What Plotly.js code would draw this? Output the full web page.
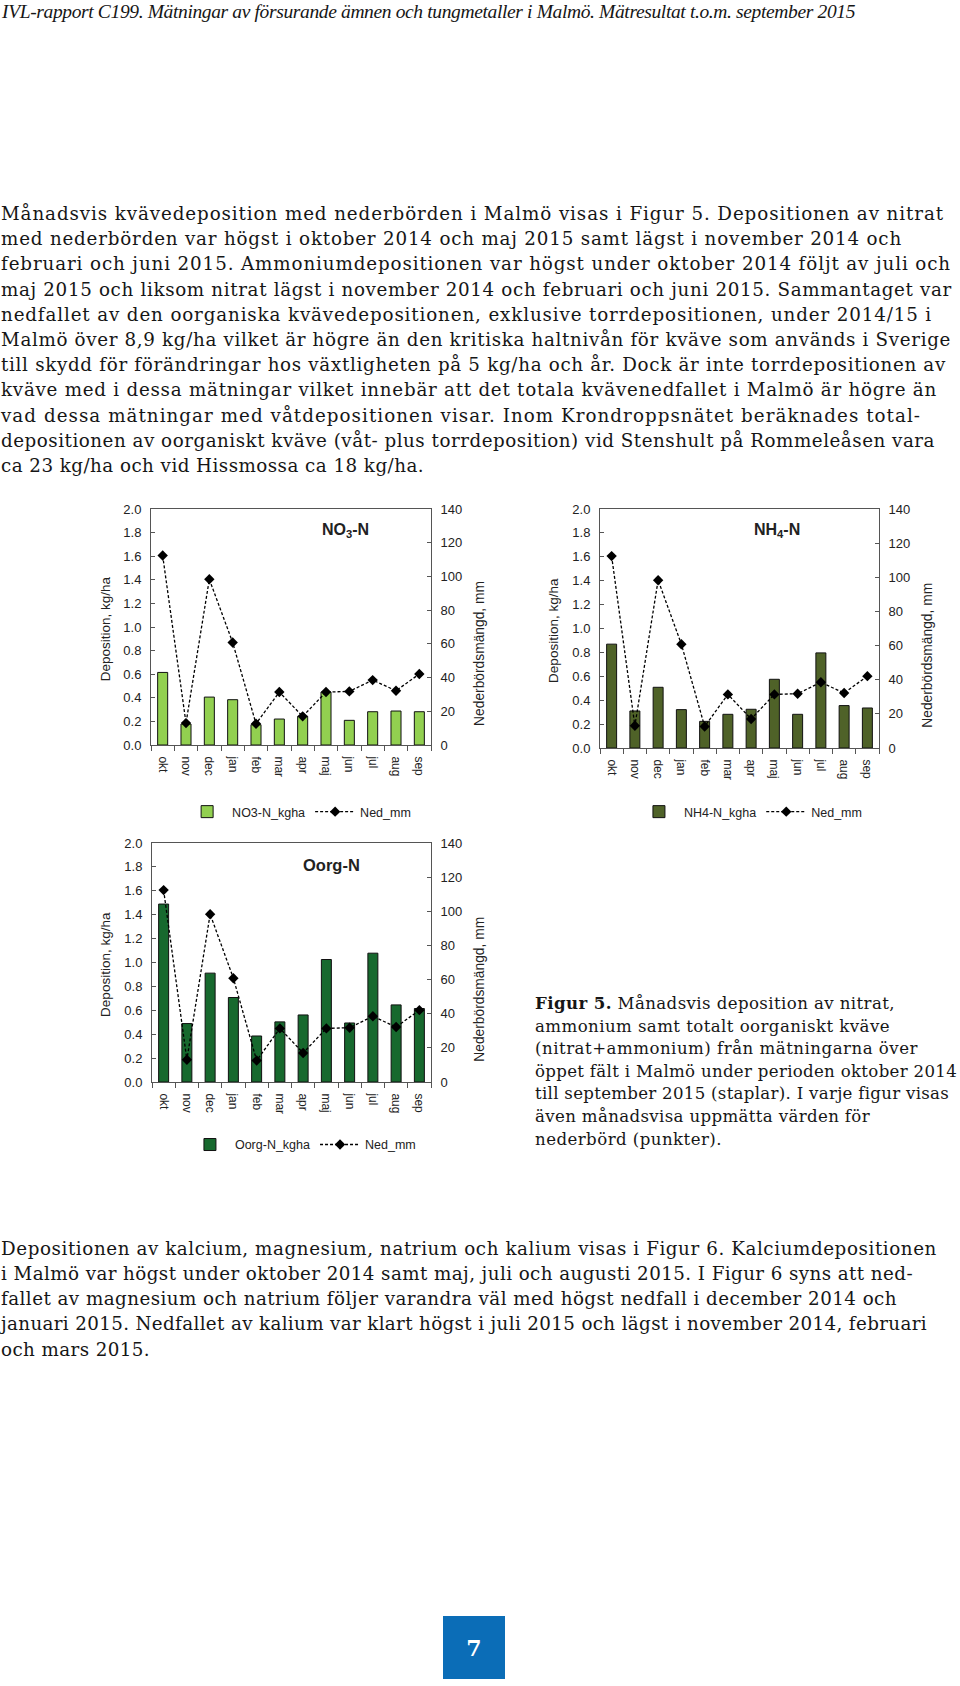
<!DOCTYPE html>
<html><head><meta charset="utf-8">
<script src="https://cdn.plot.ly/plotly-3.0.1.min.js"></script>
<style>
html,body{margin:0;padding:0;background:#fff}
body{width:960px;height:1686px;position:relative;overflow:hidden}
.ln{position:absolute;white-space:nowrap;color:#161616;line-height:20px}
.p{font-family:"DejaVu Serif",serif;font-size:18.3px}
.c{font-family:"DejaVu Serif",serif;font-size:16.6px}
.h{font-family:"Liberation Serif",serif;font-style:italic;font-size:19.5px}
.chart{position:absolute}
#pg{position:absolute;left:443px;top:1616px;width:62px;height:63px;background:#0b6db7;color:#fff;
font-family:"DejaVu Serif",serif;font-size:22px;font-weight:bold;display:flex;align-items:center;justify-content:center}
</style></head>
<body>
<div id="text"></div>
<div id="c1" class="chart" style="left:60px;top:470px;width:460px;height:360px"></div>
<div id="c2" class="chart" style="left:510px;top:470px;width:450px;height:360px"></div>
<div id="c3" class="chart" style="left:60px;top:830px;width:460px;height:335px"></div>
<div id="pg">7</div>
<script>
// ---- data ----
const months = ['okt','nov','dec','jan','feb','mar','apr','maj','jun','jul','aug','sep'];
const no3Kgha = [0.615,0.178,0.406,0.384,0.172,0.220,0.243,0.449,0.209,0.282,0.288,0.282];
const nh4Kgha = [0.869,0.310,0.508,0.321,0.223,0.282,0.324,0.575,0.282,0.796,0.355,0.335];
const oorgKgha = [1.489,0.489,0.911,0.707,0.385,0.503,0.561,1.025,0.494,1.078,0.645,0.615];
const nedMm = [112.4,13.0,98.3,60.8,12.6,31.4,17.0,31.4,31.8,38.5,32.2,42.1];
const leftTicks = [0,0.2,0.4,0.6,0.8,1.0,1.2,1.4,1.6,1.8,2.0];
const rightTicks = [0,20,40,60,80,100,120,140];

const header = 'IVL-rapport C199. Mätningar av försurande ämnen och tungmetaller i Malmö. Mätresultat t.o.m. september 2015';
const para1 = [
 'Månadsvis kvävedeposition med nederbörden i Malmö visas i Figur 5. Depositionen av nitrat',
 'med nederbörden var högst i oktober 2014 och maj 2015 samt lägst i november 2014 och',
 'februari och juni 2015. Ammoniumdepositionen var högst under oktober 2014 följt av juli och',
 'maj 2015 och liksom nitrat lägst i november 2014 och februari och juni 2015. Sammantaget var',
 'nedfallet av den oorganiska kvävedepositionen, exklusive torrdepositionen, under 2014/15 i',
 'Malmö över 8,9 kg/ha vilket är högre än den kritiska haltnivån för kväve som används i Sverige',
 'till skydd för förändringar hos växtligheten på 5 kg/ha och år. Dock är inte torrdepositionen av',
 'kväve med i dessa mätningar vilket innebär att det totala kvävenedfallet i Malmö är högre än',
 'vad dessa mätningar med våtdepositionen visar. Inom Krondroppsnätet beräknades total-',
 'depositionen av oorganiskt kväve (våt- plus torrdeposition) vid Stenshult på Rommeleåsen vara',
 'ca 23 kg/ha och vid Hissmossa ca 18 kg/ha.'
];
const caption = [
 'Figur 5.| Månadsvis deposition av nitrat,',
 'ammonium samt totalt oorganiskt kväve',
 '(nitrat+ammonium) från mätningarna över',
 'öppet fält i Malmö under perioden oktober 2014',
 'till september 2015 (staplar).  I varje figur visas',
 'även månadsvisa uppmätta värden för',
 'nederbörd (punkter).'
];
const para2 = [
 'Depositionen av kalcium, magnesium, natrium och kalium visas i Figur 6. Kalciumdepositionen',
 'i Malmö var högst under oktober 2014 samt maj, juli och augusti 2015. I Figur 6 syns att ned-',
 'fallet av magnesium och natrium följer varandra väl med högst nedfall i december 2014 och',
 'januari 2015. Nedfallet av kalium var klart högst i juli 2015 och lägst i november 2014, februari',
 'och mars 2015.'
];

// ---- text layout ----
const host = document.getElementById('text');
function addLine(txt, cls, left, cy, right){
  const d = document.createElement('div');
  d.className = 'ln ' + cls;
  if (txt.indexOf('|') >= 0){
    const parts = txt.split('|');
    const b = document.createElement('b'); b.textContent = parts[0];
    d.appendChild(b); d.appendChild(document.createTextNode(parts[1]));
  } else d.textContent = txt;
  d.style.left = left + 'px';
  d.style.top = (cy - 11) + 'px';
  d.dataset.w = right - left;
  host.appendChild(d);
}
addLine(header, 'h', 2, 13, 855);
const p1Right = [944,902,951,952,932,951,946,937,921,935,424];
para1.forEach((t,i)=>addLine(t,'p',1,215+25.2*i,p1Right[i]));
const capRight = [895,890,918,957,949,870,722];
const capY = [1004,1028,1050,1073,1095,1118,1141];
caption.forEach((t,i)=>addLine(t,'c',535,capY[i],capRight[i]));
const p2Right = [937,913,897,927,150];
const p2Y = [1250,1275,1300,1325,1351];
para2.forEach((t,i)=>addLine(t,'p',1,p2Y[i],p2Right[i]));

function fit(){
  document.querySelectorAll('.ln').forEach(el=>{
    el.style.letterSpacing='0px';
    const w = el.getBoundingClientRect().width;
    const n = el.textContent.length;
    const ls = (parseFloat(el.dataset.w) - w)/n;
    el.style.letterSpacing = ls.toFixed(3)+'px';
  });
}
fit();
if (document.fonts && document.fonts.ready) document.fonts.ready.then(fit);

// ---- charts ----
const FONT = 'Liberation Sans, Arial, sans-serif';
function chart(id, vals, name, color, title, titleSize, m, tpos, legPos){
  const traces = [
    {type:'bar', x:months, y:vals, name:name, marker:{color:color, line:{color:'#111', width:1}},
     width:0.43, hoverinfo:'y'},
    {type:'scatter', mode:'lines+markers', x:months, y:nedMm, name:'Ned_mm', yaxis:'y2',
     line:{color:'#000', width:1.3, dash:'3px,2px'}, marker:{symbol:'diamond', size:8, color:'#000'}}
  ];
  const ax = {linecolor:'#555', linewidth:1, showgrid:false, zeroline:false, automargin:false,
     tickfont:{family:FONT, size:13, color:'#222'}};
  const layout = {
    width:m.w, height:m.h, margin:{l:m.l, r:m.r, t:m.t, b:m.b},
    paper_bgcolor:'rgba(0,0,0,0)', plot_bgcolor:'#fff', showlegend:true,
    font:{family:FONT, color:'#222'},
    xaxis:Object.assign({}, ax, {type:'category', range:[-0.5,11.5], showline:true, mirror:true,
      tickangle:90, ticks:'outside', tickson:'boundaries', ticklen:5, tickcolor:'#555',
      ticklabelstandoff:8, tickfont:{family:FONT, size:12, color:'#222'}}),
    yaxis:Object.assign({}, ax, {range:[0,2], tickvals:leftTicks, tickformat:'.1f', showline:true,
      ticks:'inside', ticklen:4, tickcolor:'#555', ticklabelstandoff:6}),
    yaxis2:Object.assign({}, ax, {range:[0,140], tickvals:rightTicks, overlaying:'y', side:'right',
      showline:true, ticks:'inside', ticklen:4, tickcolor:'#555', ticklabelstandoff:6}),
    legend:{orientation:'h', x:legPos[0], y:legPos[1], xref:'paper', yref:'container',
      xanchor:'center', yanchor:'middle',
      font:{family:FONT, size:12.5, color:'#222'}, itemwidth:40, bgcolor:'rgba(0,0,0,0)'},
    annotations:[
      {text:title, xref:'paper', yref:'paper', x:tpos[0], y:tpos[1], xanchor:'center', yanchor:'middle',
       showarrow:false, font:{family:FONT, size:titleSize, color:'#222'}},
      {text:'Deposition, kg/ha', xref:'paper', yref:'paper', x:0, y:0.49, xshift:-46, textangle:-90,
       xanchor:'center', yanchor:'middle', showarrow:false, font:{family:FONT, size:13.5, color:'#222'}},
      {text:'Nederbördsmängd, mm', xref:'paper', yref:'paper', x:1, y:0.386, xshift:49, textangle:-90,
       xanchor:'center', yanchor:'middle', showarrow:false, font:{family:FONT, size:13.8, color:'#222'}}
    ]
  };
  Plotly.newPlot(id, traces, layout, {staticPlot:true, displayModeBar:false});
}
chart('c1', no3Kgha, 'NO3-N_kgha', '#92d050', '<b>NO<sub>3</sub>-N</b>', 16,
  {w:460,h:360,l:91,r:89,t:39,b:85}, [0.693,0.911], [0.529,0.05]);
chart('c2', nh4Kgha, 'NH4-N_kgha', '#4f6228', '<b>NH<sub>4</sub>-N</b>', 16,
  {w:450,h:360,l:90,r:81,t:39,b:82}, [0.634,0.912], [0.541,0.05]);
chart('c3', oorgKgha, 'Oorg-N_kgha', '#17692e', '<b>Oorg-N</b>', 16.5,
  {w:460,h:335,l:92,r:89,t:13,b:83}, [0.645,0.908], [0.541,0.06]);
</script>
</body></html>
